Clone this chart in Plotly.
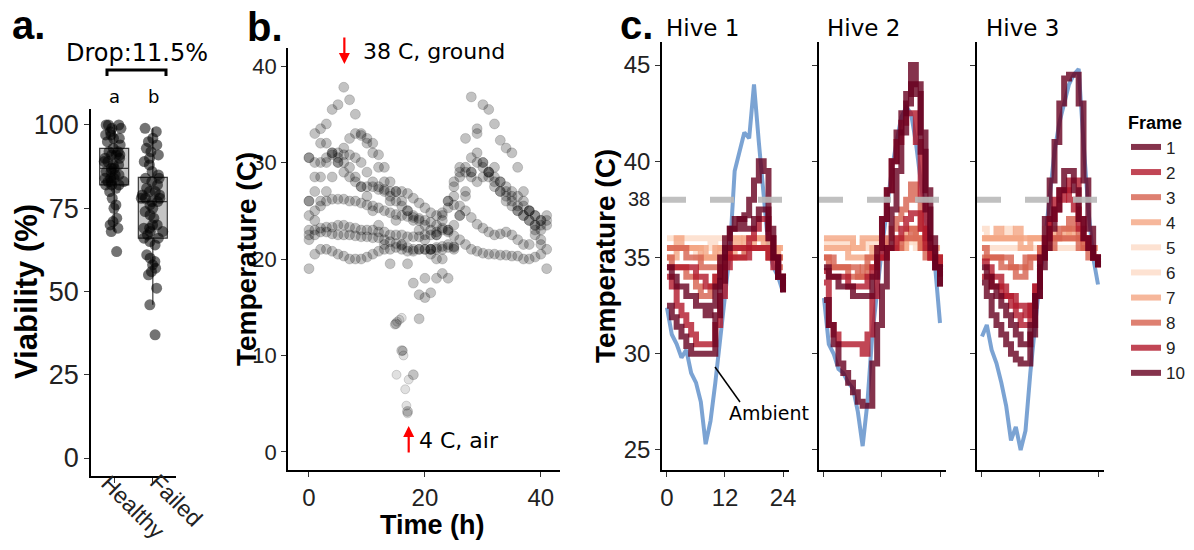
import plotly.graph_objects as go

W, H = 1194, 550

# ---------------- Panel a data ----------------
groups = ["Healthy", "Failed"]
healthy = [100, 100, 100, 99, 99, 98, 97, 97, 96, 96, 95, 94, 93,
           92, 92, 91, 91, 91, 90, 90, 89, 89, 88, 88, 87,
           87, 86, 86, 85, 85, 84, 84, 84, 83, 83, 83, 82,
           82, 82, 81, 80, 78, 76, 75, 72, 71, 70, 69, 68, 62]
failed = [99, 98, 96, 95, 94, 93, 92, 91, 90, 89, 88, 86, 85,
          84, 84, 83, 82, 81, 80, 80, 79, 79, 78, 78, 78, 77, 77,
          76, 75, 74, 73, 72, 70, 70, 69, 69, 68, 68, 67, 66,
          66, 65, 64, 61, 60, 59, 58, 57, 56, 55, 51, 46, 37]

# ---------------- Panel b data (hourly readings, 9 loggers) ----------------
hours_b = list(range(42))
N = None
logger_1 = [22.0, 22.5, 22.8, 22.8, 22.6, 22.5, 22.5, 22.5, 22.4, 22.3, 22.3, 22.2, 22.2, 22.0,
            21.8, 21.6, 21.4, 21.2, 21.0, 21.0, 21.0, 21.0, 21.0, 21.0, 21.2, 21.2,
            N, N, N, N, N, N, N, N, N, N, N, N, N, N, N, N]
logger_2 = [19.0, 20.5, 21.0, 21.0, 20.8, 20.5, 20.3, 20.0, 20.0, 20.0, 20.2, 20.5, 20.8, 21.0,
            21.0, 21.2, 21.0, 20.8, 20.8, 21.0, 21.0, 21.0, 21.2, 21.3, 21.5, 21.3,
            N, N, N, N, N, N, N, N, N, N, N, N, N, N, N, N]
logger_3 = [22.5, 24.0, 25.5, 26.0, 26.2, 26.2, 26.2, 26.0, 26.0, 25.8, 25.6, 25.5, 25.3, 25.0,
            24.8, 24.6, 24.5, 24.4, 24.3, 24.2, 24.0, 23.8, 23.5, 23.2, 22.8, 22.4, 22.0, 21.5,
            21.0, 20.8, 20.6, 20.5, 20.5, 20.4, 20.4, 20.3, 20.3, 20.0, 20.0, 20.2, 20.5, N]
logger_4 = [26.0, 28.5, 30.0, 30.5, 30.8, 31.0, 30.8, 30.8, 30.5, 30.0, 29.0, 28.0, 27.5, 27.2,
            27.0, 27.0, 27.0, 26.8, 26.3, 25.8, 25.3, 24.8, 24.5, 24.8, 25.3, 25.6, 25.5, 25.0,
            24.3, 23.6, 23.2, 22.8, 22.5, 22.6, 22.8, 22.5, 22.0, 21.5, 21.5, 22.5, 23.5, 24.0]
logger_ground = [30.5, 30.0, 32.0, 34.0, 35.5, 36.0, 37.8, 36.5, 35.0, 33.0, 32.0, 31.0, 29.5, 28.0,
                 26.0, 24.0, 21.5, 19.5, 17.5, 16.3, 16.0, 16.5, 18.0, 20.0, 23.0, 26.5, 29.0, 32.5,
                 36.8, 33.5, 30.0, 28.5, 27.5, 27.0, 26.5, 26.0, 25.0, 24.5, 24.0, 23.0, 22.0, 21.0]
logger_air = [26.0, 27.0, 28.5, 30.0, 31.0, 30.5, 30.0, 29.5, 28.5, 27.5, 26.5, 25.0, 23.5, 21.5,
              19.5, 13.3, 10.5, 4.2, 8.0, 13.8, 18.0, 20.5, 22.5, 24.5, 26.0, 27.5, 28.5, 29.5,
              30.5, 31.0, 30.0, 29.0, 28.5, 28.0, 27.5, 27.0, 26.5, 26.0, 25.0, 24.5, 24.0, 24.5]
air_dip_hours = [14.8, 15.2, 15.6, 16.0, 16.3, 16.6, 16.8, 17.0, 17.2, 16.2, 15.1]
air_dip_temps = [13.2, 13.5, 13.7, 13.9, 10.0, 6.5, 4.8, 4.0, 7.5, 10.5, 8.0]
logger_7 = [24.5, 25.0, 26.0, 27.0, 28.5, 30.0, 31.5, 32.5, 33.0, 32.8, 32.5, 32.0, 30.8, 29.5,
            28.0, 27.0, 26.0, 25.0, 24.0, 23.0, 22.0, 21.0, 20.0, 18.5, 18.0, 21.0, 24.5, 27.0,
            29.0, 30.0, 29.5, 29.0, 28.0, 27.0, 26.0, 25.5, 25.0, 24.5, 24.0, 23.5, 23.0, N]
logger_8 = [23.0, 23.0, 23.2, 23.3, 23.3, 23.5, 23.5, 23.3, 23.2, 23.0, 23.0, 23.0, 22.8, 22.8,
            22.5, 22.5, 22.5, 22.3, 22.3, 22.3, 22.5, 22.5, 22.8, 23.0, 23.0, 23.5, 24.5, 26.5,
            29.0, 33.0, 36.0, 35.5, 34.0, 32.3, 31.5, 31.0, 29.5, 27.0, 25.0, 23.5, 21.5, 19.0]
logger_9 = [30.5, 33.0, 33.5, 32.0, 31.0, 30.0, 29.0, 28.5, 28.0, 27.5, 27.5, 27.5, 27.2, 27.0,
            26.5, 26.0, 25.5, 25.0, 24.5, 24.0, 23.5, 23.0, 22.5, 24.0, 26.0, 28.0, 29.5, 29.0,
            28.5, 28.0, 28.5, 29.0, 29.5, 28.0, 27.0, 26.5, 25.5, 25.5, 25.0, 24.5, 24.0, 23.5]
loggers = [logger_1, logger_2, logger_3, logger_4, logger_ground, logger_air,
           logger_7, logger_8, logger_9]

# ---------------- Panel c data (hourly, 0-24 h) ----------------
hours_c = list(range(25))
hive1 = {
    "Ambient": [32.4, 31.0, 30.5, 29.8, 30.2, 29.0, 28.5, 27.5, 25.3, 26.5, 28.5, 31.0, 33.0,
                35.3, 39.5, 40.5, 41.5, 41.2, 44.0, 41.0, 38.5, 35.5, 34.5, 34.0, 33.2],
    1: [32.5, 31.9, 31.4, 30.9, 30.4, 30.0, 30.0, 30.0, 30.0, 30.0, 32.0, 33.8, 35.5, 36.5, 37.0,
        37.0, 37.2, 38.0, 39.0, 40.0, 39.5, 36.5, 35.0, 34.0, 33.2],
    2: [34.0, 33.5, 32.5, 32.0, 31.5, 31.0, 30.5, 30.5, 30.5, 30.5, 31.5, 33.0, 34.5, 35.5, 35.5,
        35.5, 35.5, 36.0, 36.5, 37.0, 37.0, 36.0, 35.0, 34.0, 33.2],
    3: [35.0, 34.5, 34.5, 34.5, 34.0, 34.0, 33.5, 33.0, 33.0, 33.5, 34.0, 34.5, 35.0, 35.5, 35.5,
        35.5, 35.5, 35.5, 35.5, 35.5, 35.5, 35.0, 35.0, 34.5, 34.5],
    4: [35.5, 35.5, 36.0, 35.5, 35.5, 35.5, 35.5, 35.5, 35.0, 35.0, 35.5, 35.5, 35.5, 35.5, 36.0,
        35.5, 35.5, 35.5, 36.0, 36.0, 35.5, 35.5, 35.5, 35.5, 35.5],
    5: [36.0, 36.0, 36.0, 36.0, 36.0, 36.0, 36.0, 36.0, 36.0, 35.5, 36.0, 36.0, 36.0, 36.0, 36.0,
        36.0, 36.0, 36.0, 36.0, 36.0, 36.0, 36.0, 35.5, 35.5, 35.5],
    6: [35.5, 35.5, 35.5, 35.5, 35.5, 35.5, 35.0, 35.0, 35.0, 35.0, 35.5, 35.5, 35.5, 35.5, 35.5,
        35.5, 35.5, 35.5, 35.5, 35.5, 35.5, 35.5, 35.5, 35.0, 35.0],
    7: [35.0, 35.0, 35.5, 35.5, 35.5, 35.5, 35.5, 35.0, 35.0, 35.0, 35.0, 35.5, 35.5, 35.0, 35.5,
        35.5, 36.0, 36.0, 36.0, 36.0, 36.0, 35.5, 35.5, 35.0, 35.0],
    8: [35.5, 35.5, 35.5, 35.5, 35.0, 35.0, 35.0, 34.5, 34.5, 34.5, 34.5, 35.0, 35.0, 35.0, 35.0,
        35.0, 35.5, 35.5, 35.5, 35.5, 35.5, 35.0, 35.0, 35.0, 35.0],
    9: [34.5, 34.5, 34.5, 34.5, 34.5, 34.5, 34.0, 34.0, 33.5, 33.5, 34.0, 34.5, 35.0, 35.0, 35.0,
        35.0, 35.0, 35.5, 35.5, 35.5, 35.5, 35.0, 34.5, 34.0, 33.5],
    10: [34.5, 34.0, 33.5, 33.5, 33.0, 33.0, 32.5, 32.5, 32.0, 32.5, 33.5, 35.0, 36.0, 36.5, 36.5,
         37.0, 36.5, 36.5, 37.0, 37.5, 37.5, 36.0, 35.0, 34.0, 33.2],
}
hive2 = {
    "Ambient": [32.9, 30.5, 30.0, 29.2, 29.0, 28.5, 28.2, 27.0, 25.2, 27.5, 31.0, 33.5, 35.5,
                37.5, 39.5, 41.0, 42.3, 42.8, 42.5, 41.0, 39.0, 37.0, 35.8, 34.5, 31.6],
    1: [32.8, 31.5, 30.5, 29.5, 29.0, 28.5, 28.0, 27.5, 27.3, 27.3, 29.5, 31.5, 33.5, 35.5, 37.5,
        39.5, 41.5, 43.0, 45.0, 43.5, 40.5, 37.5, 35.5, 34.5, 33.5],
    2: [33.7, 31.5, 31.0, 30.5, 30.5, 30.5, 30.5, 30.5, 30.0, 31.0, 33.0, 35.0, 37.0, 38.5, 40.0,
        41.0, 42.0, 42.5, 42.5, 41.0, 38.0, 36.0, 35.0, 34.5, 34.0],
    3: [35.0, 34.5, 34.5, 34.5, 34.5, 34.0, 34.0, 34.0, 34.5, 35.0, 35.0, 35.5, 35.5, 36.0, 36.5,
        37.0, 37.5, 38.0, 38.8, 38.0, 36.5, 35.5, 35.0, 35.0, 34.5],
    4: [36.0, 36.0, 36.0, 36.0, 36.0, 36.0, 35.5, 35.5, 36.0, 36.0, 36.0, 36.0, 35.5, 35.5, 35.5,
        35.5, 35.5, 36.0, 36.0, 36.0, 35.5, 35.5, 35.5, 35.5, 35.5],
    5: [35.8, 35.8, 35.8, 35.8, 35.8, 35.8, 35.5, 35.5, 35.8, 35.8, 35.8, 35.8, 35.8, 35.8, 35.8,
        35.8, 35.8, 35.8, 35.8, 35.8, 35.8, 35.5, 35.5, 35.5, 35.5],
    6: [35.5, 35.5, 35.5, 35.5, 35.5, 35.5, 35.5, 35.5, 35.5, 35.5, 35.5, 35.5, 35.5, 35.5, 35.5,
        35.5, 35.5, 36.0, 36.0, 35.5, 35.5, 35.5, 35.5, 35.5, 35.5],
    7: [35.5, 35.5, 35.5, 35.5, 35.5, 35.0, 35.0, 35.0, 35.0, 35.0, 35.5, 35.5, 35.5, 35.5, 35.5,
        36.0, 36.0, 36.5, 36.5, 36.0, 35.5, 35.5, 35.5, 35.0, 35.0],
    8: [35.0, 35.0, 34.5, 34.5, 34.5, 34.5, 34.5, 34.0, 34.0, 34.5, 34.5, 35.0, 35.0, 35.5, 35.5,
        35.5, 36.0, 36.0, 36.5, 36.0, 35.5, 35.0, 35.0, 35.0, 34.5],
    9: [34.3, 34.0, 34.0, 34.0, 34.0, 33.5, 33.5, 33.5, 33.5, 34.0, 34.5, 35.0, 35.0, 35.5, 35.5,
        36.0, 36.5, 37.0, 37.3, 37.3, 36.5, 35.5, 35.0, 35.0, 34.5],
    10: [34.5, 34.0, 34.0, 33.5, 33.5, 33.5, 33.0, 33.0, 33.0, 33.0, 34.0, 35.5, 37.0, 38.5, 40.0,
         41.5, 42.5, 43.5, 44.0, 44.0, 41.5, 38.5, 36.0, 34.5, 33.5],
}
hive3 = {
    "Ambient": [30.9, 31.5, 30.2, 29.5, 28.5, 27.3, 25.5, 26.2, 25.0, 26.0, 29.0, 31.5, 34.0,
                35.8, 38.2, 40.5, 42.0, 43.0, 44.0, 44.5, 44.8, 41.0, 37.5, 35.0, 33.6],
    1: [33.7, 33.0, 32.0, 31.5, 31.0, 30.5, 30.0, 29.7, 29.5, 29.5, 31.0, 33.0, 35.0, 37.0, 39.0,
        41.0, 43.0, 44.3, 44.5, 44.5, 43.0, 39.0, 36.5, 35.0, 34.5],
    2: [34.8, 34.5, 34.0, 34.0, 33.5, 33.0, 33.0, 32.5, 32.5, 32.0, 32.5, 33.5, 35.0, 36.0, 37.0,
        37.5, 38.0, 38.5, 39.0, 39.0, 37.0, 36.0, 35.5, 35.0, 34.5],
    3: [35.0, 35.0, 35.0, 35.0, 34.5, 34.5, 34.5, 34.5, 34.5, 35.0, 35.0, 35.0, 35.5, 35.5, 36.0,
        36.0, 36.5, 36.5, 37.0, 36.5, 36.0, 35.5, 35.5, 35.0, 35.0],
    4: [36.0, 36.0, 36.0, 36.5, 36.0, 36.0, 36.0, 36.5, 36.0, 36.0, 36.0, 36.0, 36.0, 36.0, 36.5,
        36.0, 36.0, 36.5, 36.0, 36.0, 36.0, 35.5, 35.5, 35.5, 35.5],
    5: [36.5, 36.0, 36.0, 36.0, 36.0, 36.5, 36.0, 36.0, 36.0, 36.0, 36.0, 36.0, 36.0, 36.5, 36.0,
        36.0, 36.0, 36.0, 36.0, 36.0, 36.0, 36.0, 35.5, 35.5, 35.5],
    6: [35.5, 35.5, 35.5, 35.5, 35.5, 35.5, 35.5, 35.5, 35.5, 35.5, 35.5, 35.5, 35.5, 35.5, 35.5,
        35.5, 35.5, 35.5, 35.5, 35.5, 35.5, 35.5, 35.5, 35.5, 35.5],
    7: [36.0, 36.0, 36.0, 36.0, 36.0, 36.0, 36.0, 36.0, 35.5, 35.5, 36.0, 36.0, 36.0, 36.0, 36.0,
        36.0, 36.0, 36.0, 36.5, 36.0, 36.0, 36.0, 35.5, 35.5, 35.5],
    8: [35.5, 35.0, 35.0, 35.0, 35.0, 35.0, 34.5, 34.0, 34.0, 34.5, 35.0, 35.0, 35.5, 35.5, 35.5,
        36.0, 36.0, 36.0, 36.0, 36.0, 35.5, 35.5, 35.0, 35.0, 35.0],
    9: [34.0, 34.0, 33.5, 33.5, 33.0, 33.0, 32.5, 32.0, 31.5, 31.5, 32.5, 33.5, 35.0, 36.0, 37.0,
        38.0, 38.5, 38.5, 38.0, 37.5, 36.5, 36.0, 35.5, 35.0, 34.5],
    10: [34.5, 34.0, 33.5, 33.0, 32.5, 32.0, 31.5, 31.0, 30.5, 30.5, 31.5, 33.0, 34.5, 35.5, 36.5,
         37.5, 38.5, 39.5, 39.5, 38.5, 37.0, 36.0, 35.5, 35.0, 34.5],
}
hives = [hive1, hive2, hive3]
frame_colors = {
    1: "rgba(103,0,31,0.8)", 2: "rgba(178,24,43,0.8)", 3: "rgba(214,96,77,0.8)",
    4: "rgba(244,165,130,0.8)", 5: "rgba(253,219,199,0.8)", 6: "rgba(253,219,199,0.8)",
    7: "rgba(244,165,130,0.8)", 8: "rgba(214,96,77,0.8)", 9: "rgba(178,24,43,0.8)",
    10: "rgba(103,0,31,0.8)",
}
draw_order = [5, 6, 4, 7, 3, 8, 2, 9, 1, 10]
ambient_color = "rgba(90,140,200,0.8)"

# ---------------- helpers ----------------
def fx(p):
    return p / W

def fy(p):
    return 1 - p / H

TICK = "Liberation Sans, Arial, sans-serif"
TXT = "DejaVu Sans, Verdana, sans-serif"

fig = go.Figure()

# Panel a
for name, vals in zip(groups, [healthy, failed]):
    fig.add_trace(go.Box(
        y=vals, x=[name] * len(vals), boxpoints="all", jitter=0.85, pointpos=0,
        width=0.75, whiskerwidth=0, fillcolor="rgba(150,150,150,0.55)",
        line=dict(color="#3a3a3a", width=1.2),
        marker=dict(color="rgba(0,0,0,0.55)", size=11),
        xaxis="x", yaxis="y", showlegend=False, hoverinfo="skip"))

# Panel b
for s in loggers:
    fig.add_trace(go.Scatter(
        x=hours_b, y=s, mode="markers", xaxis="x2", yaxis="y2", showlegend=False,
        hoverinfo="skip",
        marker=dict(size=10, color="rgba(0,0,0,0.24)",
                    line=dict(width=1, color="rgba(0,0,0,0.15)"))))
fig.add_trace(go.Scatter(
    x=air_dip_hours, y=air_dip_temps, mode="markers", xaxis="x2", yaxis="y2",
    showlegend=False, hoverinfo="skip",
    marker=dict(size=9, color="rgba(0,0,0,0.12)", line=dict(width=1, color="rgba(0,0,0,0.15)"))))

# Panel c
for i, hive in enumerate(hives):
    xa = "x%d" % (i + 3)
    ya = "y%d" % (i + 3)
    fig.add_trace(go.Scatter(
        x=hours_c, y=hive["Ambient"], mode="lines", xaxis=xa, yaxis=ya, showlegend=False,
        hoverinfo="skip", line=dict(color=ambient_color, width=4)))
    for f in draw_order:
        fig.add_trace(go.Scatter(
            x=hours_c, y=hive[f], mode="lines", xaxis=xa, yaxis=ya, hoverinfo="skip",
            name=str(f), legendgroup=str(f), legendrank=f, showlegend=(i == 0),
            line=dict(color=frame_colors[f], width=6, shape="hv")))

axis_common = dict(showline=True, linecolor="black", linewidth=1.5, ticks="outside",
                   ticklen=5, tickcolor="#333", tickwidth=1.2, showgrid=False,
                   zeroline=False, automargin=False,
                   tickfont=dict(family=TICK, size=24, color="#222"))

layout = dict(
    width=W, height=H, margin=dict(l=0, r=0, t=0, b=0, autoexpand=False),
    paper_bgcolor="white", plot_bgcolor="white", hovermode=False,
    xaxis=dict(axis_common, domain=[fx(91), fx(176)], range=[-0.6, 1.6],
               categoryorder="array", categoryarray=groups, showticklabels=False),
    yaxis=dict(axis_common, domain=[fy(476), fy(109)], range=[-5.4, 104.8],
               tickvals=[0, 25, 50, 75, 100], tickfont=dict(family=TICK, size=27, color="#222")),
    xaxis2=dict(axis_common, domain=[fx(288), fx(560)], range=[-3.62, 43.3],
                tickvals=[0, 20, 40], anchor="y2"),
    yaxis2=dict(axis_common, domain=[fy(470), fy(48)], range=[-1.87, 41.87],
                tickvals=[0, 10, 20, 30, 40], anchor="x2",
                tickfont=dict(family=TICK, size=22, color="#222")),
    legend=dict(x=fx(1126), y=fy(106), xanchor="left", yanchor="top",
                title=dict(text="<b>Frame</b>", font=dict(family=TICK, size=18, color="black")),
                font=dict(family=TICK, size=17, color="#222"), itemwidth=30,
                tracegroupgap=0, bgcolor="rgba(0,0,0,0)", borderwidth=0),
)
hive_dom = [(662, 789), (819, 946), (977, 1104)]
for i, (a, b) in enumerate(hive_dom):
    n = i + 3
    layout["xaxis%d" % n] = dict(axis_common, domain=[fx(a), fx(b)], range=[-1.03, 25.24],
                                 tickvals=[0, 12, 24], showticklabels=(i == 0),
                                 anchor="y%d" % n)
    layout["yaxis%d" % n] = dict(axis_common, domain=[fy(470), fy(42)], range=[23.96, 46.2],
                                 tickvals=[25, 30, 35, 40, 45], showticklabels=(i == 0),
                                 anchor="x%d" % n)
fig.update_layout(**layout)

shapes = []
for i in range(3):
    n = i + 3
    shapes.append(dict(type="line", xref="x%d domain" % n, yref="y%d" % n, x0=0, x1=1,
                       y0=38, y1=38, layer="above",
                       line=dict(color="rgba(185,185,185,0.9)", width=6, dash="24px,24px")))
shapes.append(dict(type="path", xref="paper", yref="paper",
                   path="M %f,%f L %f,%f L %f,%f L %f,%f" % (fx(107), fy(76), fx(107), fy(70),
                                                            fx(166), fy(70), fx(166), fy(76)),
                   line=dict(color="black", width=3)))
shapes.append(dict(type="line", xref="paper", yref="paper", x0=fx(715), y0=fy(367),
                   x1=fx(740), y1=fy(402), line=dict(color="black", width=1.5)))
fig.update_layout(shapes=shapes)

ann = []
def txt(text, x, y, size, family=TXT, xanchor="center", yanchor="middle", angle=0, color="black"):
    ann.append(dict(text=text, x=fx(x), y=fy(y), xref="paper", yref="paper", showarrow=False,
                    xanchor=xanchor, yanchor=yanchor, textangle=angle,
                    font=dict(family=family, size=size, color=color)))

txt("<b>a.</b>", 28, 25, 40, TICK)
txt("<b>b.</b>", 265, 27, 40, TICK)
txt("<b>c.</b>", 636, 25, 40, TICK)
txt("Hive 1", 664, 28, 23, xanchor="left")
txt("Hive 2", 825, 28, 23, xanchor="left")
txt("Hive 3", 984, 28, 23, xanchor="left")
txt("Drop:11.5%", 137, 53, 24)
txt("a", 114, 96, 18)
txt("b", 153, 96, 18)
txt("38 C, ground", 361, 52, 22, xanchor="left")
txt("4 C, air", 417, 441, 22, xanchor="left")
txt("38", 652, 199, 20, TICK, xanchor="right", color="#222")
txt("Ambient", 727, 413, 19, xanchor="left")
txt("<b>Viability (%)</b>", 26, 292, 31, TICK, angle=-90)
txt("<b>Temperature (C)</b>", 246, 259, 28, TICK, angle=-90)
txt("<b>Time (h)</b>", 432, 525, 27, TICK)
txt("<b>Temperature (C)</b>", 605, 256, 28, TICK, angle=-90)
# rotated category labels of panel a
txt(groups[0], 133, 507, 23, TICK, angle=45, color="#222")
txt(groups[1], 176, 500, 23, TICK, angle=45, color="#222")

ann.append(dict(text="", x=6.1, y=40.2, xref="x2", yref="y2", showarrow=True, ax=0, ay=-28,
                arrowhead=2, arrowsize=1, arrowwidth=2.2, arrowcolor="red"))
ann.append(dict(text="", x=17.2, y=2.7, xref="x2", yref="y2", showarrow=True, ax=0, ay=28,
                arrowhead=2, arrowsize=1, arrowwidth=2.2, arrowcolor="red"))
fig.update_layout(annotations=ann)

fig.write_html(
    "out.html",
    config=dict(displayModeBar=False, responsive=False),
    post_script=("document.documentElement.style.overflow='hidden';"
                 "document.body.style.margin='0';document.body.style.overflow='hidden';"
                 "var gd=document.getElementById('{plot_id}');gd.style.overflow='hidden';"),
)
